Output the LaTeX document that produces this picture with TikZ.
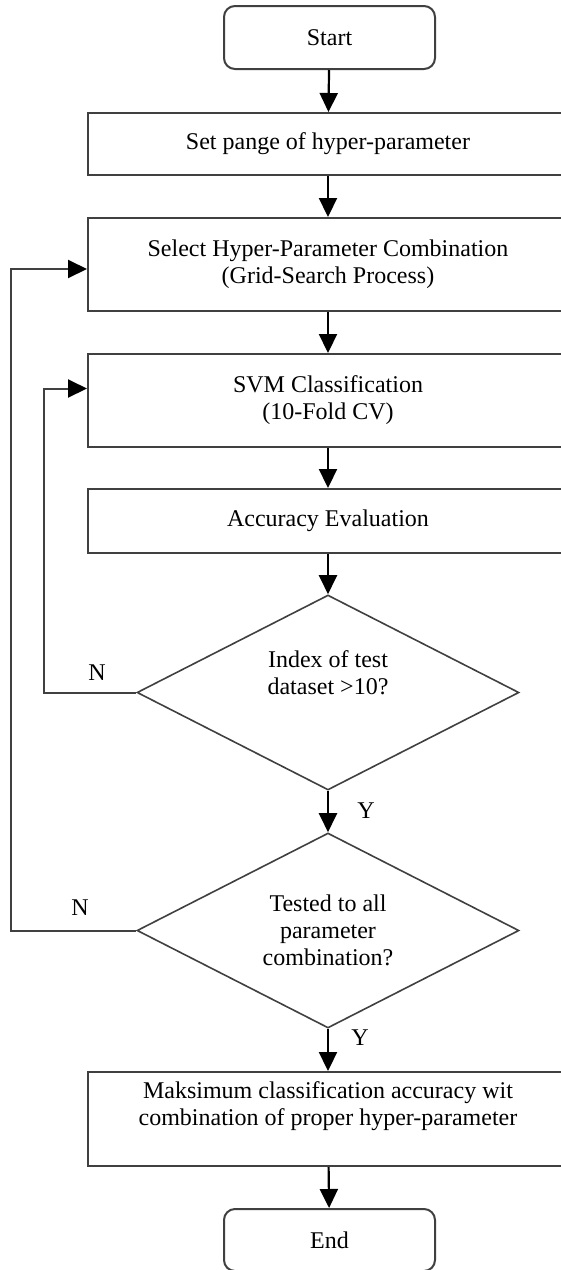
\documentclass[tikz,border=0pt]{standalone}
\usepackage{fontspec}
\setmainfont{Liberation Serif}
\usetikzlibrary{arrows.meta,shapes.geometric}
\begin{document}
\begin{tikzpicture}[x=1pt,y=-1pt,
  every node/.style={font=\fontsize{24}{27}\selectfont, text=black},
  procbox/.style={draw=black!75, line width=2pt, rectangle, minimum width=480pt, align=center, inner sep=0pt},
  termbox/.style={draw=black!75, line width=2pt, rectangle, rounded corners=11pt, minimum width=211pt, minimum height=63pt, inner sep=0pt},
  decbox/.style={draw=black!75, line width=1.6pt, diamond, shape aspect=1.96, minimum width=382pt, minimum height=195pt, inner sep=0pt, align=center},
  arr/.style={draw=black, line width=2.2pt, -{Triangle[length=19pt,width=18pt]}},
  loopline/.style={draw=black!75, line width=2pt, -{Triangle[length=19pt,width=18pt,color=black]}},
  lbl/.style={inner sep=0pt}
]
\useasboundingbox (0,0) rectangle (561,1270);
\node[termbox] (start) at (329.5,37.5) {Start};
\node[procbox, minimum height=62pt] (b1) at (328,144) {Set pange of hyper-parameter};
\node[procbox, minimum height=93pt] (b2) at (328,264.5) {Select Hyper-Parameter Combination\\(Grid-Search Process)};
\node[procbox, minimum height=93pt] (b3) at (328,400.5) {SVM Classification\\(10-Fold CV)};
\node[procbox, minimum height=64pt] (b4) at (328,521) {Accuracy Evaluation};
\node[decbox] (d1) at (328,692.5) {Index of test\\dataset >10?\\[12pt]};
\node[decbox] (d2) at (328,930.5) {Tested to all\\parameter\\combination?};
\node[procbox, minimum height=94pt] (b5) at (328,1119) {Maksimum classification accuracy wit\\combination of proper hyper-parameter\\[4pt]};
\node[termbox, minimum height=62pt] (end) at (329.5,1240) {End};

\draw[arr] (start) -- (b1);
\draw[arr] (b1) -- (b2);
\draw[arr] (b2) -- (b3);
\draw[arr] (b3) -- (b4);
\draw[arr] (b4) -- (d1.north);
\draw[arr] (d1.south) -- (d2.north);
\draw[arr] (d2.south) -- (b5);
\draw[arr] (b5) -- (end);

\draw[loopline] (d1.west) -- ++(-92,0) |- ([yshift=12pt]b3.west);
\draw[loopline] (d2.west) -- ++(-125,0) |- ([yshift=-4.5pt]b2.west);

\node[lbl] (n1) at (97,673) {N};
\node[lbl] (n2) at (80,908) {N};
\node[lbl] (y1) at (366,811) {Y};
\node[lbl] (y2) at (360,1038) {Y};
\end{tikzpicture}
\end{document}
